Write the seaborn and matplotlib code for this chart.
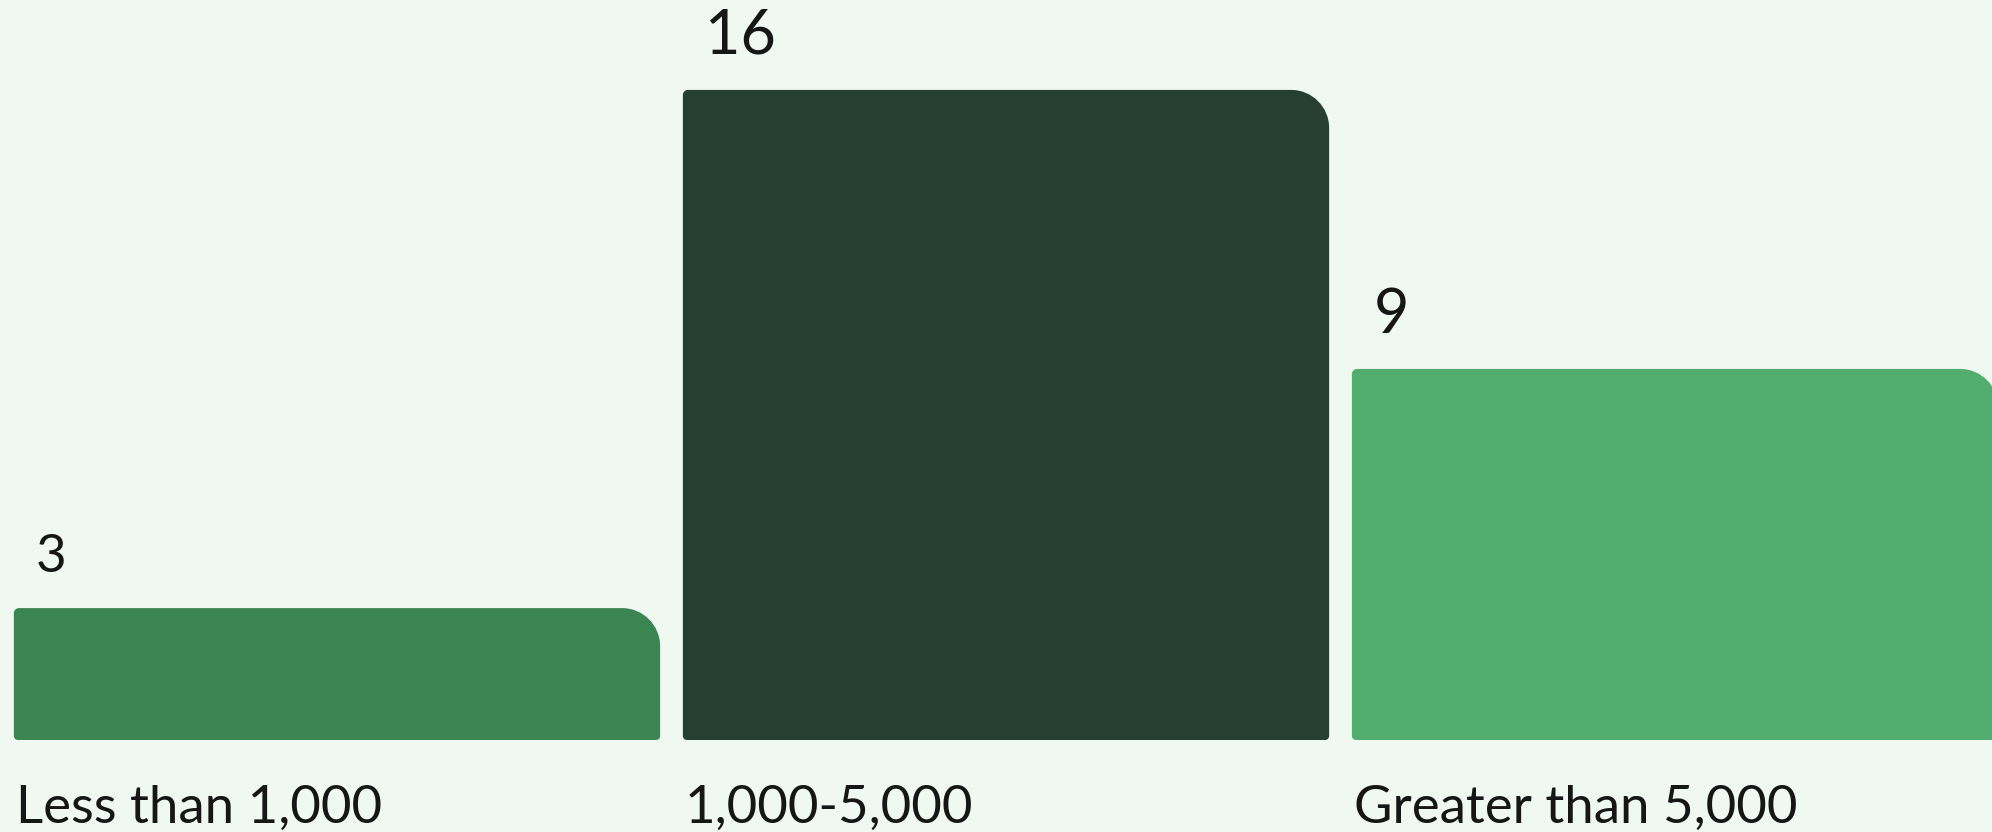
import matplotlib
matplotlib.use("Agg")
import matplotlib.pyplot as plt
import numpy as np
import pandas as pd
import seaborn as sns
from matplotlib.path import Path
from matplotlib.patches import PathPatch

# ---- data ----
categories = ["Less than 1,000", "1,000-5,000", "Greater than 5,000"]
counts = [3, 16, 9]
bar_colors = ["#3b8552", "#263f30", "#52ad6e"]

# ---- style ----
BG = "#eff8f1"
TEXT = "#161616"
W, H, DPI = 1992, 832, 100
FONT = ["Lato", "DejaVu Sans"]

sns.set_theme(style="white")
plt.rcParams["font.family"] = FONT

fig = plt.figure(figsize=(W / DPI, H / DPI), dpi=DPI, facecolor=BG)
ax = fig.add_axes([0, 0, 1, 1])
ax.set_facecolor(BG)

df = pd.DataFrame({"cat": categories, "n": counts})
sns.barplot(data=df, x="cat", y="n", hue="cat", palette=bar_colors,
            width=0.966, saturation=1, legend=False, ax=ax)

ax.set_xlim(-0.5037, 2.4738)
ax.set_ylim(-2.617, 18.256)
ax.axis("off")

# pixel -> data conversion
px_x = W / (ax.get_xlim()[1] - ax.get_xlim()[0])
px_y = H / (ax.get_ylim()[1] - ax.get_ylim()[0])
base = -12.3 / px_y  # bars start slightly below the zero line

K = 0.5523


def rounded_path(x0, x1, y0, y1, r_tl, r_tr, r_br, r_bl):
    def rx(r):
        return r / px_x

    def ry(r):
        return r / px_y

    verts, codes = [], []

    def move(p):
        verts.append(p); codes.append(Path.MOVETO)

    def line(p):
        verts.append(p); codes.append(Path.LINETO)

    def corner(p0, c, p3):
        p1 = (p0[0] + K * (c[0] - p0[0]), p0[1] + K * (c[1] - p0[1]))
        p2 = (p3[0] + K * (c[0] - p3[0]), p3[1] + K * (c[1] - p3[1]))
        verts.extend([p1, p2, p3]); codes.extend([Path.CURVE4] * 3)

    move((x0 + rx(r_bl), y0))
    line((x1 - rx(r_br), y0))
    corner((x1 - rx(r_br), y0), (x1, y0), (x1, y0 + ry(r_br)))
    line((x1, y1 - ry(r_tr)))
    corner((x1, y1 - ry(r_tr)), (x1, y1), (x1 - rx(r_tr), y1))
    line((x0 + rx(r_tl), y1))
    corner((x0 + rx(r_tl), y1), (x0, y1), (x0, y1 - ry(r_tl)))
    line((x0, y0 + ry(r_bl)))
    corner((x0, y0 + ry(r_bl)), (x0, y0), (x0 + rx(r_bl), y0))
    verts.append((0, 0)); codes.append(Path.CLOSEPOLY)
    return Path(verts, codes)


patches = list(ax.patches)
label_y = ax.get_ylim()[0] + (H - 823) / px_y
for i, p in enumerate(patches):
    x0 = p.get_x()
    x1 = x0 + p.get_width()
    y1 = p.get_y() + p.get_height()
    fc = p.get_facecolor()
    p.set_visible(False)
    path = rounded_path(x0, x1, base, y1, 5, 38, 4, 4)
    ax.add_patch(PathPatch(path, facecolor=fc, edgecolor="none", zorder=3))

    val = p.get_height()
    fs = 38 if val < 5 else 44
    ax.text(x0 + 22 / px_x, y1 + 36 / px_y, f"{val:g}", fontsize=fs,
            color=TEXT, ha="left", va="baseline", zorder=4)

    ax.text(x0 + 2 / px_x, label_y, categories[i], fontsize=38,
            color=TEXT, ha="left", va="baseline")

fig.savefig("out.png", dpi=DPI, facecolor=BG)
